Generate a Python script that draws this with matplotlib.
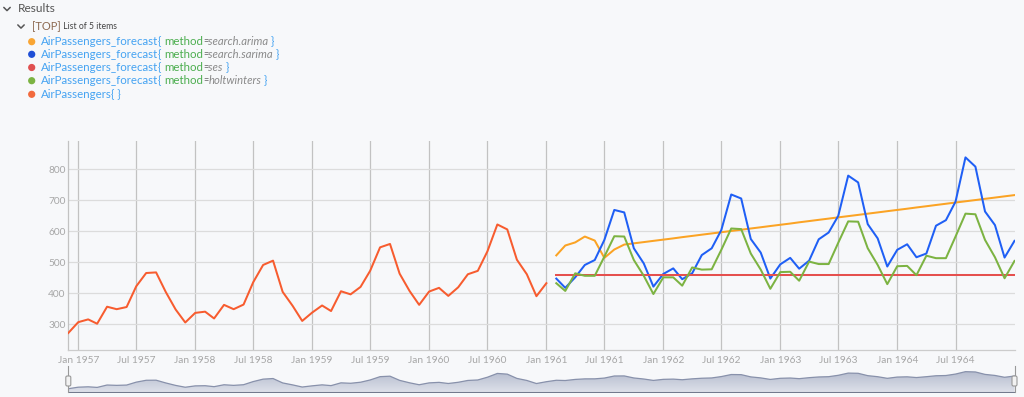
import numpy as np
import pandas as pd
import matplotlib
matplotlib.use("Agg")
import matplotlib.pyplot as plt
import matplotlib.dates as mdates
from matplotlib.patches import Circle, FancyBboxPatch
from matplotlib.colors import LinearSegmentedColormap

# ---------------- data ----------------
passenger_start = "1956-12-01"
passengers = [271, 306,
              315, 301, 356, 348, 355, 422, 465, 467, 404, 347, 305, 336,
              340, 318, 362, 348, 363, 435, 491, 505, 404, 359, 310, 337,
              360, 342, 406, 396, 420, 472, 548, 559, 463, 407, 362, 405,
              417, 391, 419, 461, 472, 535, 622, 606, 508, 461, 390, 432]

forecast_start = "1961-02-01"
arima = [522, 554, 564, 583, 570, 514, 541, 557, 561,
         565, 569, 573, 577, 581, 585, 589, 593, 597, 601, 605, 609,
         613, 617, 621, 625, 629, 633, 637, 641, 645, 649, 653, 657,
         661, 665, 669, 673, 677, 681, 685, 689, 693, 697, 701, 705,
         709, 713, 717]
sarima = [447, 417, 451, 491, 507, 572, 669, 661, 545, 496, 421,
          462, 480, 445, 464, 523, 545, 604, 719, 706, 575, 531, 447,
          493, 514, 479, 505, 574, 596, 650, 780, 758, 623, 577, 486,
          540, 558, 516, 528, 618, 636, 696, 839, 809, 664, 620, 515,
          569]
ses_level = 459
ses = [ses_level] * 48
holtwinters = [432, 407, 464, 456, 456, 518, 584, 583, 507, 456, 397,
               451, 451, 424, 483, 476, 477, 540, 609, 607, 528, 476, 414,
               468, 469, 440, 502, 494, 494, 563, 632, 631, 545, 491, 429,
               487, 488, 458, 521, 513, 513, 583, 657, 655, 572, 516, 448,
               504]

y_ticks = [300, 400, 500, 600, 700, 800]
x_tick_start, x_tick_end = "1957-01-01", "1964-07-01"

series_names = ["search.arima", "search.sarima", "ses", "holtwinters"]

# ---------------- style ----------------
BG = "#f7f8fa"
C_PASS = "#f75c2f"
C_ARIMA = "#fba324"
C_SARIMA = "#1f5ff5"
C_SES = "#e5504e"
C_HW = "#7cb342"
DOT_COLORS = ["#f9a533", "#1f4fd6", "#e05050", "#7cb342", "#f26a3d"]
FONT = "Lato"
plt.rcParams["font.family"] = [FONT, "DejaVu Sans"]

W, H = 1024, 397
fig = plt.figure(figsize=(W / 100, H / 100), dpi=100)
fig.patch.set_facecolor(BG)

L, R, T, B = 68.3, 1014.5, 141, 350


def rect(l, t, r, b):
    return [l / W, 1 - b / H, (r - l) / W, (b - t) / H]


pass_dates = pd.date_range(passenger_start, periods=len(passengers), freq="MS")
fc_dates = pd.date_range(forecast_start, periods=len(arima), freq="MS")

ax = fig.add_axes(rect(L, T, R, B))
ax.set_facecolor(BG)
lw = 1.45
ax.plot(fc_dates, arima, color=C_ARIMA, lw=lw, zorder=3)
ax.plot(fc_dates, sarima, color=C_SARIMA, lw=lw, zorder=4)
ax.plot(fc_dates, ses, color=C_SES, lw=lw, zorder=5)
ax.plot(fc_dates, holtwinters, color=C_HW, lw=lw, zorder=6)
ax.plot(pass_dates, passengers, color=C_PASS, lw=lw, zorder=7)

ax.set_xlim(pass_dates[0], fc_dates[-1])
ax.set_ylim(216, 892)
ax.set_yticks(y_ticks)
ax.set_yticklabels([str(v) for v in y_ticks])
xt = pd.date_range(x_tick_start, x_tick_end, freq="6MS")
ax.set_xticks(xt)
ax.set_xticklabels([d.strftime("%b %Y") for d in xt])
ax.tick_params(axis="both", length=0, labelsize=7.3, labelcolor="#a6a6a6")
ax.tick_params(axis="x", pad=4)
ax.tick_params(axis="y", pad=2)
ax.grid(axis="y", color="#dcdcdc", lw=0.9)
ax.grid(axis="x", color="#c2c2c2", lw=0.9)
ax.set_axisbelow(True)
for s in ["top", "right"]:
    ax.spines[s].set_visible(False)
ax.spines["left"].set_color("#c2c2c2")
ax.spines["left"].set_linewidth(0.9)
ax.spines["bottom"].set_color("#cccccc")
ax.spines["bottom"].set_linewidth(0.9)

# ---------------- navigator ----------------
fc_mean = np.mean(np.array([arima, sarima, ses, holtwinters]), axis=0)
nav_dates = list(pass_dates) + list(fc_dates)
nav_series = np.concatenate([np.array(passengers, float), fc_mean])

nav = fig.add_axes(rect(L, 366, R, 392.5))
nav.set_facecolor("none")
nav_lo, nav_hi = 184, 793
nav.set_xlim(pass_dates[0], fc_dates[-1])
nav.set_ylim(nav_lo, nav_hi)
poly = nav.fill_between(nav_dates, nav_series, nav_lo, color="none", lw=0)
cmap = LinearSegmentedColormap.from_list("navg", ["#dde0e9", "#b3bacd"])
grad = np.linspace(0, 1, 64).reshape(-1, 1)
x0 = mdates.date2num(pass_dates[0])
x1 = mdates.date2num(fc_dates[-1])
im = nav.imshow(grad, aspect="auto", cmap=cmap, origin="lower",
                extent=[x0, x1, nav_lo, 680], zorder=1)
im.set_clip_path(poly.get_paths()[0], transform=nav.transData)
nav.plot(nav_dates, nav_series, color="#8891ab", lw=0.9, zorder=2)
nav.axhline(nav_lo, color="#737a8d", lw=2.2, zorder=3)
nav.axis("off")

# ---------------- overlay (pixel coords) ----------------
ov = fig.add_axes([0, 0, 1, 1])
ov.set_xlim(0, W)
ov.set_ylim(H, 0)
ov.axis("off")
ov.patch.set_alpha(0)

# navigator handles
for hx in (L, R):
    ov.plot([hx, hx], [366, 392], color="#999999", lw=0.8)
    ov.add_patch(FancyBboxPatch((hx - 2.5, 376), 5, 10,
                                boxstyle="round,pad=0,rounding_size=1.5",
                                fc="#f2f2f2", ec="#999999", lw=0.8, zorder=5))


def chevron(cx, cy, size=3.2, color="#555555"):
    ov.plot([cx - size, cx, cx + size], [cy - size / 2, cy + size / 2, cy - size / 2],
            color=color, lw=1.1, solid_capstyle="round")


chevron(7, 9)
ov.text(18, 9, "Results", fontsize=8.6, color="#555555", va="center", ha="left")
chevron(21, 26.5)

fig.canvas.draw()
renderer = fig.canvas.get_renderer()


def pieces(x, y, parts):
    for txt, color, size, style in parts:
        t = ov.text(x, y, txt, fontsize=size, color=color, style=style,
                    va="center", ha="left")
        x += t.get_window_extent(renderer).width
    return x


pieces(32, 26.5, [("[TOP]", "#8d6a52", 8.0, "normal"),
                  (" List of 5 items", "#444444", 6.2, "normal")])

BLUE_T = "#45a3f2"
GREEN_T = "#4cae4f"
GREY_T = "#8a8a8a"
rows_y = [41.7, 54.3, 67.5, 80.7, 94.3]
for i, name in enumerate(series_names):
    y = rows_y[i]
    ov.add_patch(Circle((31.7, y), 2.9, color=DOT_COLORS[i]))
    pieces(40.5, y, [("AirPassengers_forecast", BLUE_T, 8.3, "normal"),
                     ("{ ", BLUE_T, 8.3, "normal"),
                     ("method", GREEN_T, 8.3, "normal"),
                     ("=", "#666666", 6.5, "normal"),
                     (name, GREY_T, 8.1, "italic"),
                     (" }", BLUE_T, 8.3, "normal")])
ov.add_patch(Circle((31.7, rows_y[4]), 2.9, color=DOT_COLORS[4]))
pieces(40.5, rows_y[4], [("AirPassengers", BLUE_T, 8.3, "normal"),
                         ("{ }", BLUE_T, 8.3, "normal")])

fig.savefig("out.png", dpi=100, facecolor=BG)
